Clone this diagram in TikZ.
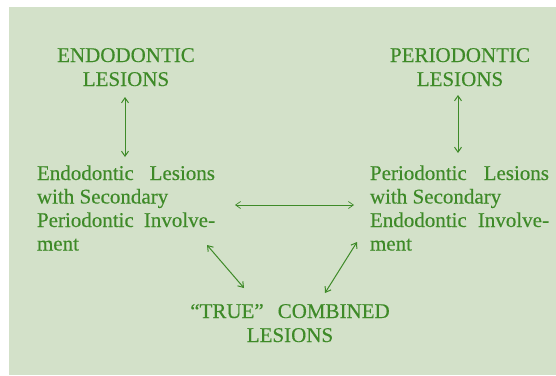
\documentclass[tikz,border=0pt]{standalone}
\usepackage{fontspec}
\setmainfont{Liberation Serif}[FakeBold=0.35]
\usetikzlibrary{arrows.meta}
\definecolor{bggreen}{RGB}{211,225,201}
\definecolor{inkgreen}{RGB}{62,138,40}
\begin{document}
\begin{tikzpicture}[x=1pt,y=-1pt,
  lbl/.style={inner sep=0pt,outer sep=0pt,text=inkgreen,font=\fontsize{21}{24}\selectfont},
  title/.style={lbl,align=center,anchor=base},
  link/.style={draw=inkgreen,line width=1pt,{Straight Barb[length=5pt,width=7pt]}-{Straight Barb[length=5pt,width=7pt]}},
  thinlink/.style={link,line width=0.7pt}]
\useasboundingbox (0,0) rectangle (556,375);
\fill[bggreen] (9,7) rectangle (556,375);
% titles (base anchor = baseline of last line)
\node[title] (endo) at (126,86) {ENDODONTIC\\LESIONS};
\node[title] (perio) at (460,86) {PERIODONTIC\\LESIONS};
% blocks
\node[lbl,anchor=base west] (eblock) at (37,180) {\parbox[t]{178pt}{\fontsize{21}{23.5}\selectfont
  Endodontic\hfill Lesions\\
  with Secondary\\
  Periodontic\hfill Involve-\\
  ment}};
\node[lbl,anchor=base west] (pblock) at (370,180) {\parbox[t]{179pt}{\fontsize{21}{23.5}\selectfont
  Periodontic\hfill Lesions\\
  with Secondary\\
  Endodontic\hfill Involve-\\
  ment}};
% bottom
\node[title] (true) at (290,342) {“TRUE”\hskip 14pt COMBINED\\LESIONS};
% connector endpoints
\coordinate (e1) at (125,97);
\coordinate (e2) at (125,157);
\coordinate (p1) at (458,95);
\coordinate (p2) at (458,153);
\coordinate (h1) at (235,205);
\coordinate (h2) at (354,205);
\coordinate (l1) at (207,245);
\coordinate (l2) at (244,288);
\coordinate (r1) at (357,242);
\coordinate (r2) at (325,293);
\draw[link] (e1) -- (e2);
\draw[link] (p1) -- (p2);
\draw[thinlink] (h1) -- (h2);
\draw[link] (l1) -- (l2);
\draw[link] (r1) -- (r2);
\end{tikzpicture}
\end{document}
